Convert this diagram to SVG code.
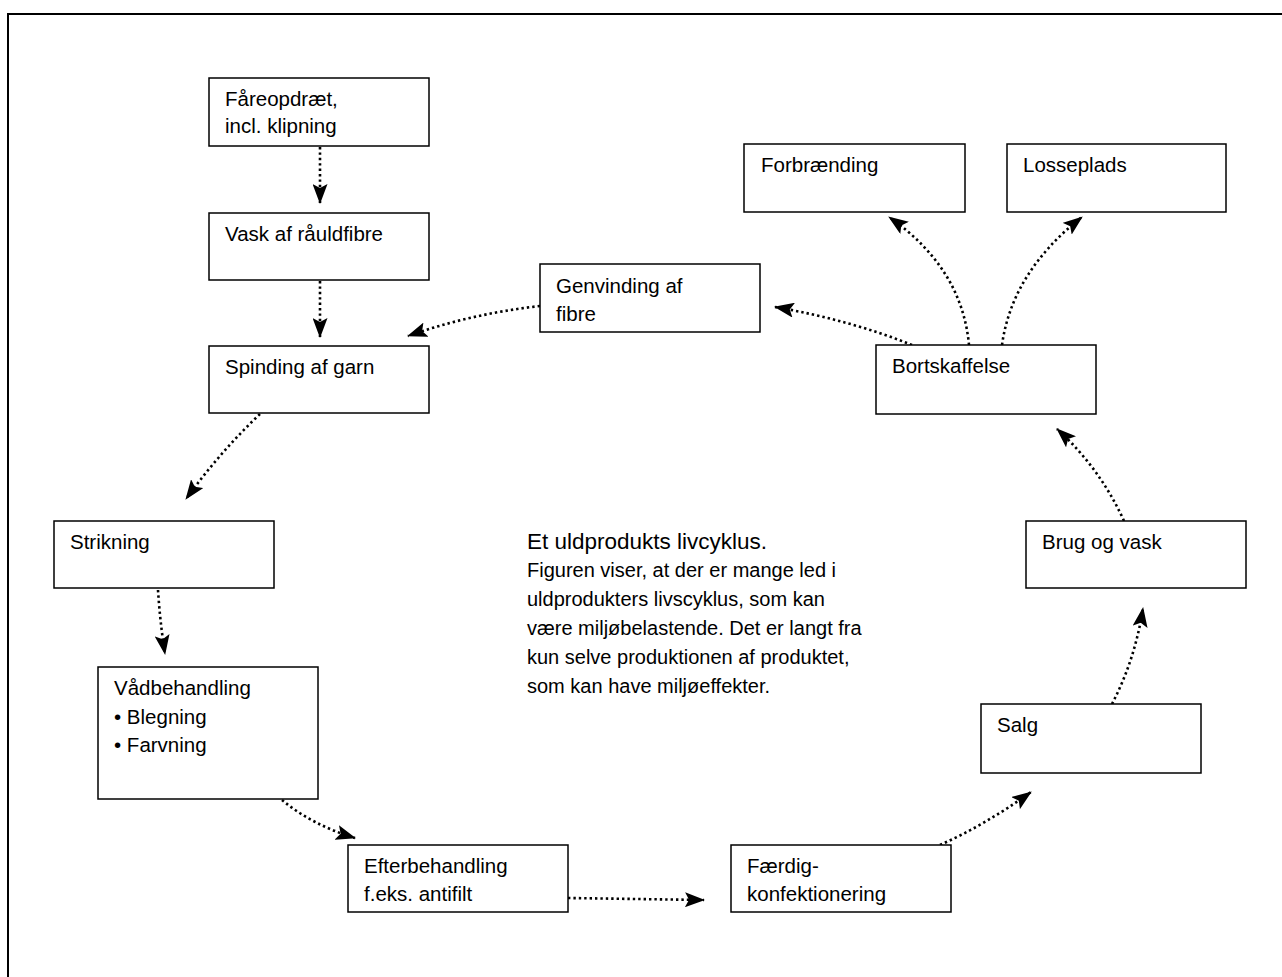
<svg xmlns="http://www.w3.org/2000/svg" width="1282" height="977" viewBox="0 0 1282 977">
<style>
.box{fill:#fff;stroke:#000;stroke-width:1.5}
.lbl{font-family:"Liberation Sans",Arial,sans-serif;font-size:20.5px;fill:#000}
.body{font-family:"Liberation Sans",Arial,sans-serif;font-size:20px;fill:#000}
.title{font-family:"Liberation Sans",Arial,sans-serif;font-size:22.5px;fill:#000}
.con{fill:none;stroke:#000;stroke-width:2.6;stroke-dasharray:2.4 3;marker-end:url(#ah)}
</style>
<defs>
<marker id="ah" viewBox="0 0 20 15" refX="19" refY="7.5" markerWidth="20" markerHeight="15" markerUnits="userSpaceOnUse" orient="auto">
<path d="M0,0 L20,7.5 L0,15 L4,7.5 Z" fill="#000"/>
</marker>
</defs>
<rect x="0" y="0" width="1282" height="977" fill="#fff"/>
<rect x="8" y="14" width="1290" height="990" fill="none" stroke="#000" stroke-width="2"/>

<g id="connectors">
<path class="con" d="M320,147 L320,203"/>
<path class="con" d="M320,281 L320,337"/>
<path class="con" d="M540,306 Q470,314 408,336"/>
<path class="con" d="M260,414 Q220,452 186,499"/>
<path class="con" d="M158,590 Q160,622 165,654"/>
<path class="con" d="M282,800 Q312,825 355,838"/>
<path class="con" d="M568,898 L704,900"/>
<path class="con" d="M940,845 Q985,825 1031,792"/>
<path class="con" d="M1112,704 Q1135,660 1143,608"/>
<path class="con" d="M1124,521 Q1100,468 1057,429"/>
<path class="con" d="M912,345 Q850,320 775,307"/>
<path class="con" d="M969,345 Q962,268 889,217"/>
<path class="con" d="M1002,345 Q1012,272 1082,217"/>
</g>

<g id="n-fare"><rect class="box" x="209" y="78" width="220" height="68"/><text class="lbl" x="225" y="106">Fåreopdræt,</text><text class="lbl" x="225" y="133">incl. klipning</text></g>
<g id="n-vask"><rect class="box" x="209" y="213" width="220" height="67"/><text class="lbl" x="225" y="241">Vask af råuldfibre</text></g>
<g id="n-spinding"><rect class="box" x="209" y="346" width="220" height="67"/><text class="lbl" x="225" y="374">Spinding af garn</text></g>
<g id="n-strikning"><rect class="box" x="54" y="521" width="220" height="67"/><text class="lbl" x="70" y="549">Strikning</text></g>
<g id="n-vaad"><rect class="box" x="98" y="667" width="220" height="132"/><text class="lbl" x="114" y="695">Vådbehandling</text><text class="lbl" x="114" y="724">• Blegning</text><text class="lbl" x="114" y="752">• Farvning</text></g>
<g id="n-efter"><rect class="box" x="348" y="845" width="220" height="67"/><text class="lbl" x="364" y="873">Efterbehandling</text><text class="lbl" x="364" y="901">f.eks. antifilt</text></g>
<g id="n-faerdig"><rect class="box" x="731" y="845" width="220" height="67"/><text class="lbl" x="747" y="873">Færdig-</text><text class="lbl" x="747" y="901">konfektionering</text></g>
<g id="n-salg"><rect class="box" x="981" y="704" width="220" height="69"/><text class="lbl" x="997" y="732">Salg</text></g>
<g id="n-brug"><rect class="box" x="1026" y="521" width="220" height="67"/><text class="lbl" x="1042" y="549">Brug og vask</text></g>
<g id="n-bort"><rect class="box" x="876" y="345" width="220" height="69"/><text class="lbl" x="892" y="373">Bortskaffelse</text></g>
<g id="n-forb"><rect class="box" x="744" y="144" width="221" height="68"/><text class="lbl" x="761" y="172">Forbrænding</text></g>
<g id="n-losse"><rect class="box" x="1007" y="144" width="219" height="68"/><text class="lbl" x="1023" y="172">Losseplads</text></g>
<g id="n-genv"><rect class="box" x="540" y="264" width="220" height="68"/><text class="lbl" x="556" y="293">Genvinding af</text><text class="lbl" x="556" y="321">fibre</text></g>

<g id="caption">
<text class="title" x="527" y="549">Et uldprodukts livcyklus.</text>
<text class="body" x="527" y="577">Figuren viser, at der er mange led i</text>
<text class="body" x="527" y="606">uldprodukters livscyklus, som kan</text>
<text class="body" x="527" y="635">være miljøbelastende. Det er langt fra</text>
<text class="body" x="527" y="664">kun selve produktionen af produktet,</text>
<text class="body" x="527" y="693">som kan have miljøeffekter.</text>
</g>
</svg>
